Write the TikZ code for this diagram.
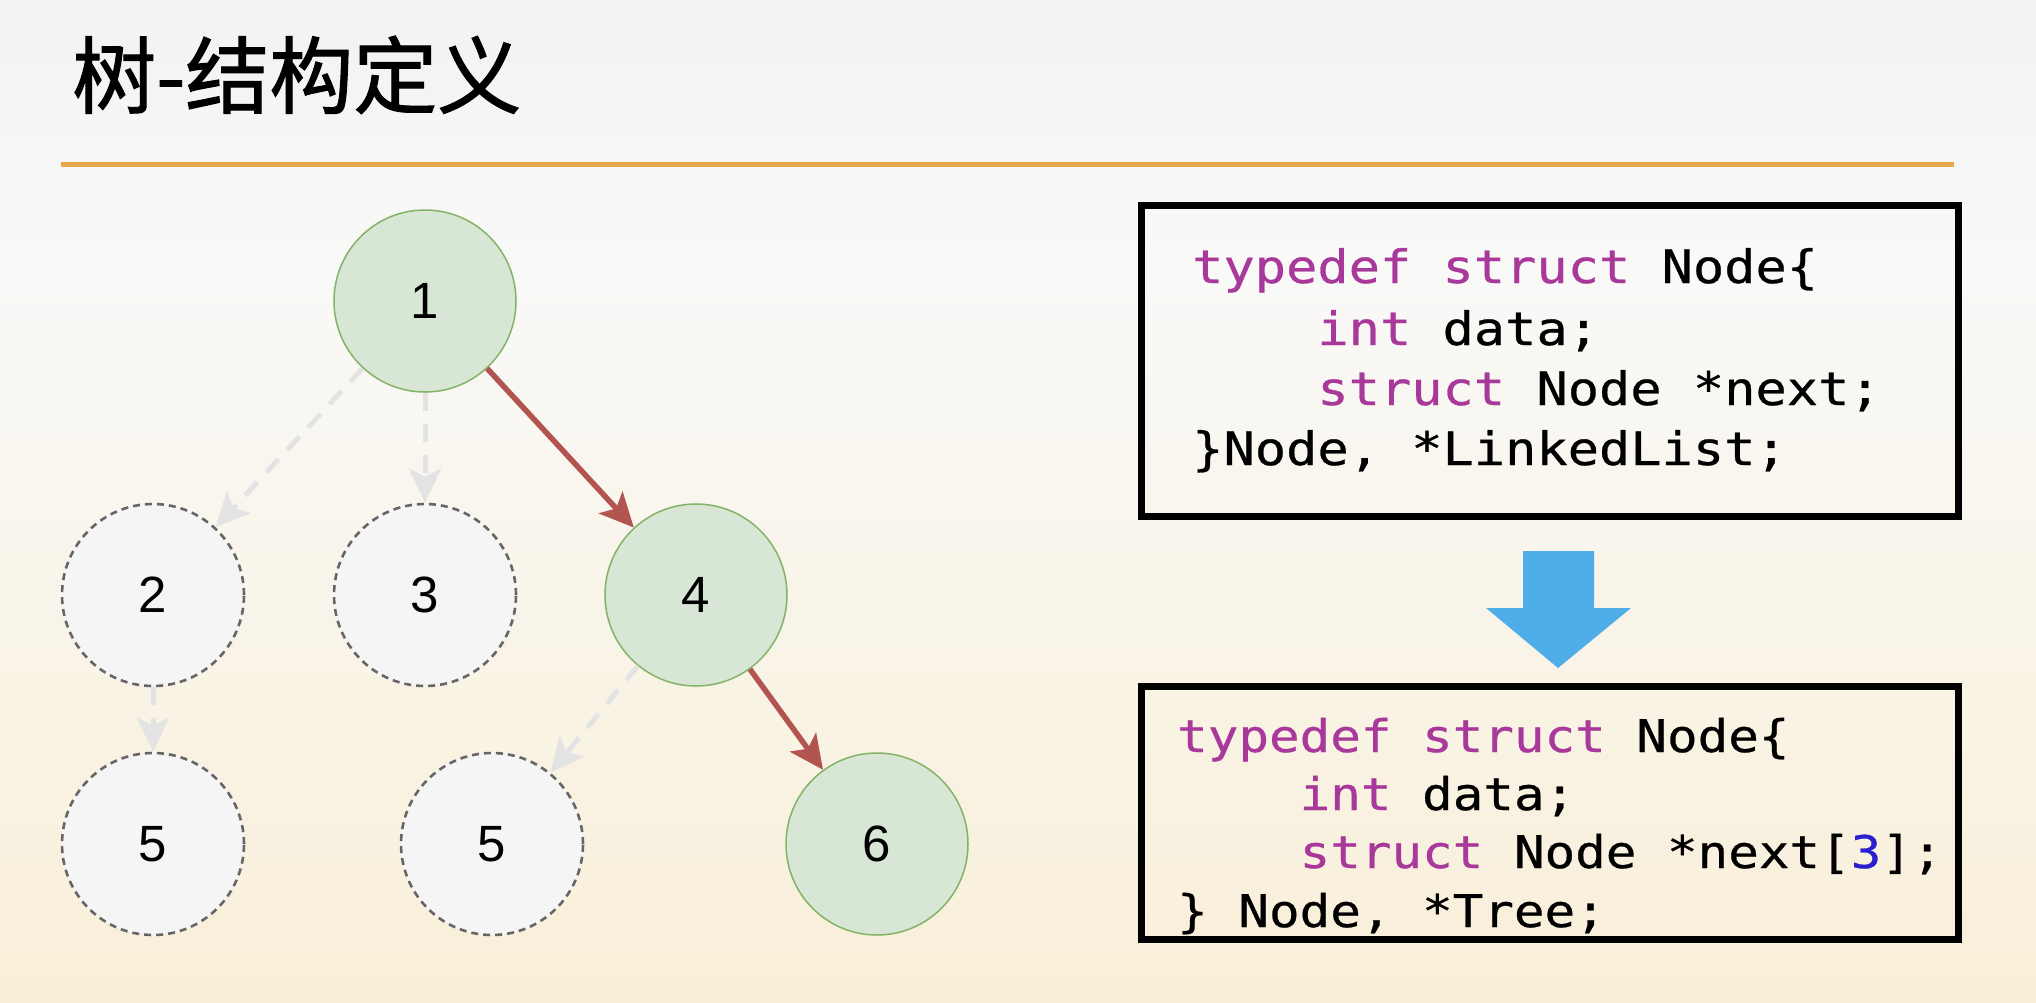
\documentclass[tikz,border=0pt]{standalone}
\usepackage{fontspec}
\setmainfont{Liberation Sans}
\newfontfamily\cjk[FakeBold=1.3]{Noto Sans CJK SC}
\newfontfamily\codefont[FakeStretch=1.13,FakeBold=0.6]{DejaVu Sans Mono}
\usetikzlibrary{arrows.meta}
\definecolor{bgtop}{HTML}{E4E4E4}
\definecolor{bgmid}{HTML}{F9F9F8}
\definecolor{bgbot}{HTML}{F9EBCB}
\definecolor{rule}{HTML}{E8A64A}
\definecolor{gfill}{HTML}{D8E7D5}
\definecolor{gline}{HTML}{82B366}
\definecolor{dfill}{HTML}{F5F5F5}
\definecolor{dline}{HTML}{666666}
\definecolor{redar}{HTML}{B25450}
\definecolor{grayar}{HTML}{E3E3E3}
\definecolor{kw}{HTML}{A8399B}
\definecolor{numc}{HTML}{2A1FD0}
\definecolor{bluear}{HTML}{4FADE8}
\pgfdeclareverticalshading{bgshade}{100bp}{color(0bp)=(bgbot); color(25bp)=(bgbot!70!bgmid); color(62bp)=(bgmid); color(100bp)=(bgtop)}
\tikzset{
  solidnode/.style={circle, minimum size=182pt, inner sep=0pt, fill=gfill, draw=gline, line width=1.5pt, font=\fontsize{51}{51}\selectfont},
  dashnode/.style={circle, minimum size=182pt, inner sep=0pt, fill=dfill, draw=dline, line width=2.6pt, dash pattern=on 7pt off 5pt, font=\fontsize{51}{51}\selectfont},
  redarrow/.style={draw=redar, line width=5.5pt, -{Stealth[length=34pt,width=32pt,inset=8pt]}},
  grayarrow/.style={draw=grayar, line width=5pt, dash pattern=on 18pt off 13pt, -{Stealth[length=34pt,width=32pt,inset=8pt]}},
  codebox/.style={draw=black, line width=7pt},
  codeline/.style={anchor=base west, inner sep=0pt, font=\codefont\fontsize{46}{46}\selectfont},
  codeline2/.style={anchor=base west, inner sep=0pt, font=\codefont\fontsize{45}{45}\selectfont},
}
\begin{document}
\begin{tikzpicture}[x=1pt,y=-1pt]
\useasboundingbox (0,0) rectangle (2036,1002);
\shade[shading=bgshade] (0,0) rectangle (2036,1002);
% title
\node[anchor=base west, inner sep=0pt, font=\cjk\fontsize{84}{90}\selectfont] (title) at (72,107) {树-结构定义};
\coordinate (ruleL) at (61,164);
\coordinate (ruleR) at (1954,164);
\draw[rule, line width=5pt] (ruleL) -- (ruleR);
% tree
\node[solidnode] (n1) at (425,301) {1};
\node[dashnode] (n2) at (153,595) {2};
\node[dashnode] (n3) at (425,595) {3};
\node[solidnode] (n4) at (696,595) {4};
\node[dashnode] (n5a) at (153,844) {5};
\node[dashnode] (n5b) at (492,844) {5};
\node[solidnode] (n6) at (877,844) {6};
\draw[grayarrow] (n1) -- (n2);
\draw[grayarrow] (n1) -- (n3);
\draw[grayarrow] (n2) -- (n5a);
\draw[grayarrow] (n4) -- (n5b);
\draw[redarrow] (n1) -- (n4);
\draw[redarrow] (n4) -- (n6);
% code box 1
\node[codebox, minimum width=817pt, minimum height=311pt, inner sep=0pt] (box1) at (1550,360.5) {};
\node[codeline] (l11) at (1192,283) {\textcolor{kw}{typedef struct} Node\{};
\node[codeline] (l12) at (1192,345) {\phantom{xxxx}\textcolor{kw}{int} data;};
\node[codeline] (l13) at (1192,405) {\phantom{xxxx}\textcolor{kw}{struct} Node *next;};
\node[codeline] (l14) at (1192,465) {\}Node, *LinkedList;};
% blue arrow
\fill[bluear] (1523,551) -- (1594,551) -- (1594,608) -- (1631,608) -- (1558,668) -- (1486,608) -- (1523,608) -- cycle;
% code box 2
\node[codebox, minimum width=817pt, minimum height=253pt, inner sep=0pt] (box2) at (1550,813) {};
\node[codeline2] (l21) at (1177,752) {\textcolor{kw}{typedef struct} Node\{};
\node[codeline2] (l22) at (1177,810) {\phantom{xxxx}\textcolor{kw}{int} data;};
\node[codeline2] (l23) at (1177,868) {\phantom{xxxx}\textcolor{kw}{struct} Node *next[\textcolor{numc}{3}];};
\node[codeline2] (l24) at (1177,927) {\} Node, *Tree;};
\end{tikzpicture}
\end{document}
